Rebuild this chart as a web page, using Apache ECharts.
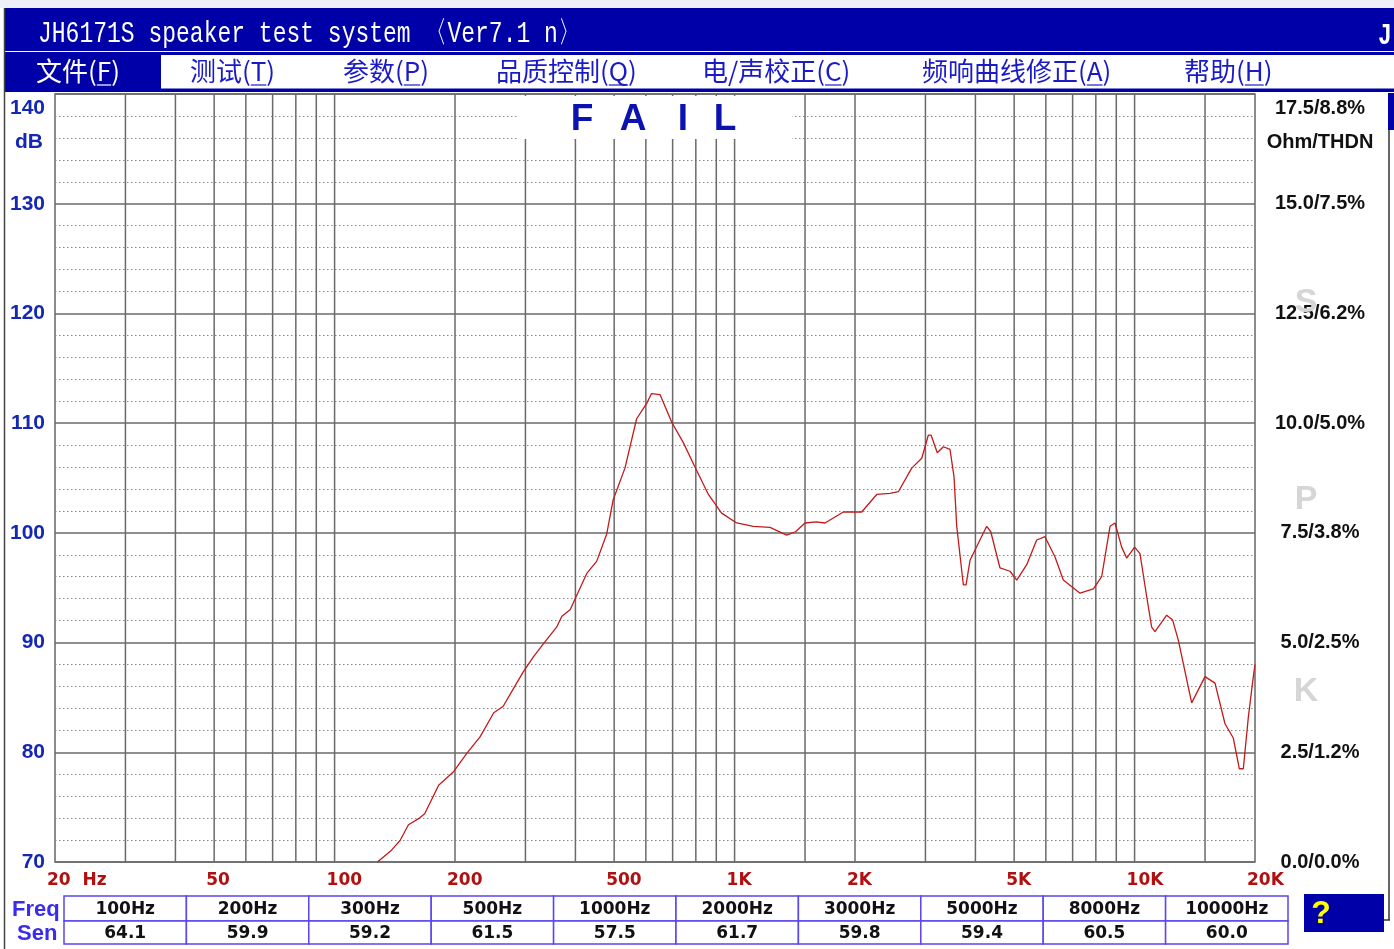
<!DOCTYPE html>
<html>
<head>
<meta charset="utf-8">
<script src="https://cdn.jsdelivr.net/npm/echarts/dist/echarts.min.js"></script>
<style>
html,body{margin:0;padding:0;background:#fff;}
#chart{width:1394px;height:949px;}
</style>
</head>
<body>
<div id="chart"></div>
<script>
// ---- data ----
const freqs = [128,139,146,153,163,168,182,198,214,231,250,264,280,296,314,333,359,370,388,427,452,479,497,532,569,603,620,651,696,745,796,860,928,1012,1114,1226,1350,1420,1500,1600,1683,1700,1870,2078,2266,2447,2567,2772,2937,3050,3100,3212,3326,3456,3537,3592,3732,3790,3878,4068,4268,4370,4608,4882,5075,5375,5692,5970,6325,6634,7305,7887,8274,8681,8934,9283,9555,10000,10316,10720,11033,11247,12028,12450,12866,13890,15000,15887,16827,17653,18272,18700,19248,19808,20000];
const spl = [70.0,71.1,72.0,73.4,74.0,74.4,77.0,78.2,79.9,81.4,83.6,84.2,85.8,87.3,88.7,89.9,91.4,92.4,93.0,96.3,97.4,99.9,103.0,105.9,110.4,111.8,112.7,112.6,110.1,108.2,106.0,103.5,101.8,100.9,100.6,100.5,99.8,100.1,100.9,101.0,100.9,100.8,101.9,101.9,103.5,103.6,103.75,105.9,106.8,108.9,108.9,107.3,107.85,107.6,105.1,100.6,95.25,95.25,97.5,99.05,100.6,100.1,96.8,96.5,95.7,97.1,99.35,99.65,97.8,95.7,94.5,94.9,96.0,100.6,100.9,98.7,97.7,98.7,98.1,94.2,91.4,91.0,92.5,92.05,90.2,84.5,86.9,86.3,82.6,81.3,78.5,78.5,83.2,86.9,88.0];
const gridFreqs = [30,40,50,60,70,80,90,100,200,300,400,500,600,700,800,900,1000,1500,2000,3000,4000,5000,6000,7000,8000,9000,10000,15000];
const xTickFreqs = [20,50,100,200,500,1000,2000,5000,10000,20000];
const xTickLabels = ['20  Hz','50','100','200','500','1K','2K','5K','10K','20K'];
const leftTopLabels = ['140','dB'];
const rightLabels = ['0.0/0.0%','2.5/1.2%','5.0/2.5%','7.5/3.8%','10.0/5.0%','12.5/6.2%','15.0/7.5%','17.5/8.8%'];
const rightUnit = 'Ohm/THDN';
const tableFreqs = ['100Hz','200Hz','300Hz','500Hz','1000Hz','2000Hz','3000Hz','5000Hz','8000Hz','10000Hz'];
const tableSen = ['64.1','59.9','59.2','61.5','57.5','61.7','59.8','59.4','60.5','60.0'];
const tableRowNames = ['Freq','Sen'];
const menuItems = ['文件(F)','测试(T)','参数(P)','品质控制(Q)','电/声校正(C)','频响曲线修正(A)','帮助(H)'];
const menuX = [36,190,343,496,702,922,1184];
const titleText = 'JH6171S speaker test system 〈Ver7.1 n〉';
const verdict = ['F','A','I','L'];
const verdictX = [582,633,683,725];

// ---- layout ----
const G = {left:55, top:94, width:1200, height:768};
const NAVY = '#0000A8';
const LABEL_FONT = '"Liberation Sans", Arial, sans-serif';
const MENU_FONT = '26px "Noto Sans CJK SC", sans-serif';
const measureCtx = document.createElement('canvas').getContext('2d');
measureCtx.font = MENU_FONT;

const graphics = [];
// top strip + title bar
graphics.push({type:'rect', shape:{x:0,y:0,width:1394,height:8}, style:{fill:'#EEF1F8'}, z:1});
graphics.push({type:'rect', shape:{x:5,y:8,width:1389,height:43}, style:{fill:NAVY}, z:1});
graphics.push({type:'text', x:38, y:34, scaleY:1.3, style:{text:titleText, fill:'#fff', font:'23px "Liberation Mono", monospace', textAlign:'left', textVerticalAlign:'middle'}, z:2});
graphics.push({type:'text', x:1378, y:36, scaleY:1.3, style:{text:'J', fill:'#fff', font:'bold 23px "Liberation Mono", monospace', textAlign:'left', textVerticalAlign:'middle'}, z:2});
// menu bar
graphics.push({type:'rect', shape:{x:5,y:52,width:1389,height:40}, style:{fill:NAVY}, z:1});
graphics.push({type:'rect', shape:{x:161,y:55,width:1233,height:33.5}, style:{fill:'#fff'}, z:1});
menuItems.forEach((m,i)=>{
  const col = i===0 ? '#fff' : '#1A1AC8';
  graphics.push({type:'text', x:menuX[i], y:71, style:{text:m, fill:col, font:MENU_FONT, textAlign:'left', textVerticalAlign:'middle'}, z:2});
  const k = m.indexOf('(') + 1;
  const x0 = menuX[i] + measureCtx.measureText(m.slice(0,k)).width;
  const w = measureCtx.measureText(m.charAt(k)).width;
  graphics.push({type:'line', shape:{x1:x0,y1:85,x2:x0+w,y2:85}, style:{stroke:col, lineWidth:1.2}, z:2});
});
// window borders
graphics.push({type:'line', shape:{x1:4.5,y1:8,x2:4.5,y2:949}, style:{stroke:'#444', lineWidth:1.5}, z:3});
graphics.push({type:'rect', shape:{x:1388,y:93,width:6,height:37}, style:{fill:NAVY}, z:3});
graphics.push({type:'line', shape:{x1:1389,y1:130,x2:1389,y2:920}, style:{stroke:'#333', lineWidth:1.5}, z:3});
graphics.push({type:'line', shape:{x1:1384,y1:920,x2:1390,y2:920}, style:{stroke:'#333', lineWidth:1.5}, z:3});
// FAIL box
graphics.push({type:'rect', shape:{x:518,y:96,width:274,height:43}, style:{fill:'#fff'}, z:50});
verdict.forEach((c,i)=>{
  graphics.push({type:'text', x:verdictX[i], y:120, style:{text:c, fill:'#0A12B0', font:'bold 37px "Liberation Sans", Arial, sans-serif', textAlign:'center', textVerticalAlign:'middle'}, z:51});
});
// left top labels
graphics.push({type:'text', x:45, y:108, style:{text:leftTopLabels[0], fill:'#1428B4', font:'bold 21px '+LABEL_FONT, textAlign:'right', textVerticalAlign:'middle'}, z:5});
graphics.push({type:'text', x:29, y:142, style:{text:leftTopLabels[1], fill:'#1428B4', font:'bold 21px '+LABEL_FONT, textAlign:'center', textVerticalAlign:'middle'}, z:5});
// right top labels
graphics.push({type:'text', x:1320, y:108, style:{text:rightLabels[7], fill:'#111', font:'bold 20px '+LABEL_FONT, textAlign:'center', textVerticalAlign:'middle'}, z:5});
graphics.push({type:'text', x:1320, y:142, style:{text:rightUnit, fill:'#111', font:'bold 20px '+LABEL_FONT, textAlign:'center', textVerticalAlign:'middle'}, z:5});
// watermark letters
[['S',303],['P',500],['K',692]].forEach(([c,y])=>{
  graphics.push({type:'text', x:1306, y:y, style:{text:c, fill:'#D6D6D6', font:'bold 34px '+LABEL_FONT, textAlign:'center', textVerticalAlign:'middle'}, z:2});
});
// table
const tX = 64, tW = 122.4, rowY = [896,921], rowH = [25,23];
for (let r=0;r<2;r++){
  const vals = r===0 ? tableFreqs : tableSen;
  vals.forEach((v,i)=>{
    graphics.push({type:'rect', shape:{x:tX+i*tW, y:rowY[r], width:tW, height:rowH[r]}, style:{fill:'#fff', stroke:'#5A46F0', lineWidth:1.5}, z:4});
    graphics.push({type:'text', x:tX+i*tW+tW/2, y:rowY[r]+rowH[r]/2+1, style:{text:v, fill:'#111', font:'bold 17px "DejaVu Sans", sans-serif', textAlign:'center', textVerticalAlign:'middle'}, z:5});
  });
  graphics.push({type:'text', x: r===0?12:17, y:rowY[r]+rowH[r]/2+1, style:{text:tableRowNames[r], fill:'#3A2CEB', font:'bold 22px '+LABEL_FONT, textAlign:'left', textVerticalAlign:'middle'}, z:5});
}
// help box
graphics.push({type:'rect', shape:{x:1304,y:894,width:80,height:38}, style:{fill:NAVY}, z:4});
graphics.push({type:'text', x:1321, y:914, style:{text:'?', fill:'#FFFF00', font:'bold 32px '+LABEL_FONT, textAlign:'center', textVerticalAlign:'middle'}, z:5});

const chart = echarts.init(document.getElementById('chart'), null, {renderer:'canvas'});
chart.setOption({
  animation:false,
  backgroundColor:'#fff',
  grid:{left:G.left, top:G.top, width:G.width, height:G.height, show:true, borderColor:'#666', borderWidth:1.5, backgroundColor:'#fff'},
  xAxis:{type:'log', logBase:10, min:20, max:20000,
    axisLine:{show:false}, axisTick:{show:false}, axisLabel:{show:false}, splitLine:{show:false}},
  yAxis:[
    {type:'value', min:70, max:140, interval:10, position:'left',
      axisLine:{show:false}, axisTick:{show:false},
      axisLabel:{color:'#1428B4', fontSize:21, fontWeight:'bold', fontFamily:LABEL_FONT, margin:10,
        formatter:v => v===140 ? '' : String(v)},
      splitLine:{show:true, lineStyle:{color:'#6a6a6a', width:1.5}},
      minorTick:{show:false, splitNumber:5},
      minorSplitLine:{show:true, lineStyle:{color:'#8a8a8a', width:1, type:[1.5,2.5]}}},
    {type:'value', min:0, max:17.5, interval:2.5, position:'right',
      axisLine:{show:false}, axisTick:{show:false}, splitLine:{show:false},
      axisLabel:{color:'#111', fontSize:20, fontWeight:'bold', fontFamily:LABEL_FONT, margin:65, align:'center',
        formatter:v => { const k = Math.round(v/2.5); return k===7 ? '' : rightLabels[k]; }}}
  ],
  graphic:{elements:graphics},
  series:[
    {type:'custom', name:'vgrid', silent:true, z:1,
      data:gridFreqs.map(f=>[f,105]),
      renderItem:(params, api)=>{
        const f = api.value(0);
        const p1 = api.coord([f,140]), p2 = api.coord([f,70]);
        return {type:'line', shape:{x1:p1[0],y1:p1[1],x2:p2[0],y2:p2[1]}, style:{stroke:'#6a6a6a', lineWidth:1.5}};
      }},
    {type:'custom', name:'xlabels', silent:true, z:3,
      data:xTickFreqs.map((f,i)=>[f,70,i]),
      renderItem:(params, api)=>{
        const p = api.coord([api.value(0),70]);
        return {type:'text', x:p[0]-8, y:p[1]+19,
          style:{text:xTickLabels[api.value(2)], fill:'#B01010', font:'bold 17px "DejaVu Sans", sans-serif', textAlign:'left', textVerticalAlign:'middle'}};
      }},
    {type:'line', name:'SPL', data:freqs.map((f,i)=>[f,spl[i]]), showSymbol:false, symbol:'none',
      clip:true, z:5, lineStyle:{color:'#C41A1A', width:1.3}}
  ]
});
</script>
</body>
</html>
